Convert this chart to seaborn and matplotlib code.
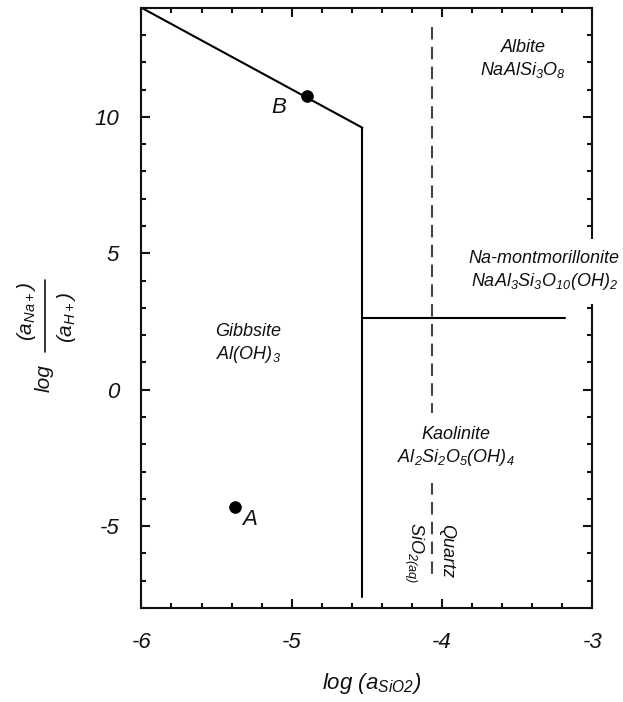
import matplotlib
matplotlib.use("Agg")
import matplotlib.pyplot as plt
from matplotlib.lines import Line2D
from matplotlib.ticker import MultipleLocator
import pandas as pd
import seaborn as sns

# phase boundaries, log aSiO2 vs log(aNa+/aH+)
albite_gibbsite_x = [-6.0, -4.53]
albite_gibbsite_y = [14.0, 9.6]
gibbsite_kaolinite_x = [-4.53, -4.53]
gibbsite_kaolinite_y = [9.6, -7.6]
kaolinite_mont_x = [-4.53, -3.18]
kaolinite_mont_y = [2.64, 2.64]
quartz_x = [-4.07, -4.07]
quartz_y = [13.3, -7.0]

# sample points
point_names = ["A", "B"]
point_x = [-5.38, -4.90]
point_y = [-4.3, 10.75]

sns.set_style("ticks")
plt.rcParams["font.family"] = ["Liberation Sans", "DejaVu Sans"]
plt.rcParams["font.style"] = "italic"
plt.rcParams["mathtext.fontset"] = "custom"
plt.rcParams["mathtext.rm"] = "Liberation Sans:italic"
plt.rcParams["mathtext.it"] = "Liberation Sans:italic"
plt.rcParams["axes.unicode_minus"] = False
for k in ["text.color", "axes.labelcolor", "xtick.color", "ytick.color", "axes.edgecolor"]:
    plt.rcParams[k] = "#111111"

W, H = 623, 702
fig, ax = plt.subplots(figsize=(W / 100, H / 100), dpi=100)
fig.subplots_adjust(left=0.227, right=0.951, top=0.989, bottom=0.134)

solid = dict(color="black", linewidth=1.5, sort=False, estimator=None, legend=False)
sns.lineplot(x=albite_gibbsite_x, y=albite_gibbsite_y, ax=ax, **solid)
sns.lineplot(x=gibbsite_kaolinite_x, y=gibbsite_kaolinite_y, ax=ax, **solid)
sns.lineplot(x=kaolinite_mont_x, y=kaolinite_mont_y, ax=ax, **solid)
ax.plot(quartz_x, quartz_y, color="#444444", linewidth=1.5, linestyle=(0, (6, 3.5)))

pts = pd.DataFrame({"x": point_x, "y": point_y, "name": point_names})
sns.scatterplot(data=pts, x="x", y="y", color="black", s=70, edgecolor="black",
                zorder=5, ax=ax, legend=False)
ax.text(-5.28, -4.75, "A", fontsize=16, ha="center", va="center")
ax.text(-5.085, 10.34, "B", fontsize=16, ha="center", va="center")

lab = dict(fontsize=13, ha="center", va="center", linespacing=1.25)
ax.text(-3.46, 12.1, "Albite\nNaAlSi$_3$O$_8$", **lab)
ax.text(-3.32, 4.36, "Na-montmorillonite\nNaAl$_3$Si$_3$O$_{10}$(OH)$_2$",
        bbox=dict(facecolor="white", edgecolor="none", pad=9), zorder=6, **lab)
ax.text(-5.29, 1.68, "Gibbsite\nAl(OH)$_3$", **lab)
ax.text(-3.907, -2.1, "Kaolinite\nAl$_2$Si$_2$O$_5$(OH)$_4$",
        bbox=dict(facecolor="white", edgecolor="none", pad=11), zorder=6, **lab)
ax.text(-4.19, -5.95, "SiO$_{2(aq)}$", fontsize=13, rotation=-90, ha="center", va="center")
ax.text(-3.97, -5.9, "Quartz", fontsize=13, rotation=-90, ha="center", va="center")

ax.set_xlim(-6, -3)
ax.set_ylim(-8, 14)
ax.xaxis.set_major_locator(MultipleLocator(1))
ax.xaxis.set_minor_locator(MultipleLocator(0.2))
ax.yaxis.set_major_locator(MultipleLocator(5))
ax.yaxis.set_minor_locator(MultipleLocator(1))
ax.tick_params(which="both", direction="in", top=True, right=True, width=1.5, labelsize=16)
ax.tick_params(which="major", length=6.5)
ax.tick_params(which="minor", length=3.6)
ax.tick_params(axis="x", pad=17)
ax.tick_params(axis="y", pad=16)
for s in ax.spines.values():
    s.set_linewidth(1.5)

ax.set_xlabel("log (a$_{SiO2}$)", fontsize=16)
ax.xaxis.set_label_coords(0.51, -0.105)
ax.set_ylabel("")

# y label drawn as a stacked fraction: log (a_Na+)/(a_H+)
ylab = dict(fontsize=15, rotation=90, ha="center", va="center")
fig.text(44 / W, 1 - 378 / H, "log", **ylab)
fig.text(26 / W, 1 - 311 / H, "(a$_{Na+}$)", **ylab)
fig.text(66 / W, 1 - 318 / H, "(a$_{H+}$)", **ylab)
fig.add_artist(Line2D([45 / W, 45 / W], [1 - 280 / H, 1 - 352 / H],
                      color="#111111", linewidth=1.2, transform=fig.transFigure))

fig.savefig("out.png", dpi=100)
